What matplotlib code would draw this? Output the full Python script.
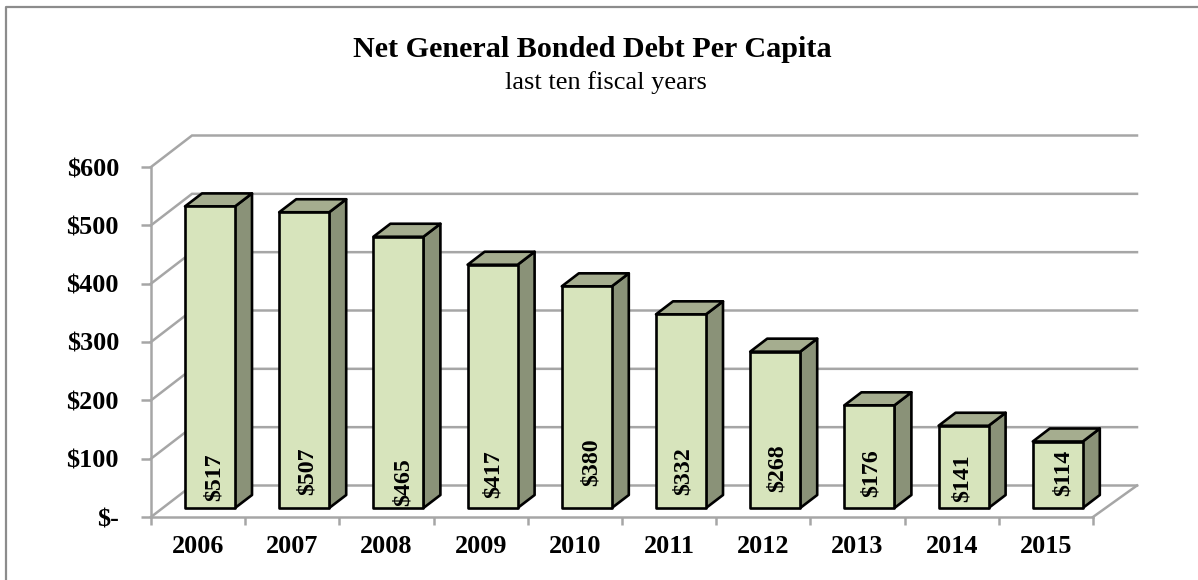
from matplotlib import pyplot as plt
from matplotlib.patches import Polygon
from matplotlib.lines import Line2D

years = ['2006', '2007', '2008', '2009', '2010', '2011', '2012', '2013', '2014', '2015']
debt = [517, 507, 465, 417, 380, 332, 268, 176, 141, 114]
y_ticks = [0, 100, 200, 300, 400, 500, 600]
y_labels = ['$-', '$100', '$200', '$300', '$400', '$500', '$600']

# hand placed data labels, pixels from the bar centre / bar bottom
label_dx = [4, 3, 5, 1, 4, 2, 2, 2, -1, 5]
label_lift = [7, 13, 2, 10, 22, 13, 16, 11, 6, 12]

W, H = 1198, 580
plt.rcParams['font.family'] = ['Liberation Serif', 'DejaVu Serif']

fig = plt.figure(figsize=(W / 100, H / 100), dpi=100)
# only the left and top edge of the chart frame are inside the crop
fig.add_artist(Line2D([6 / W, 6 / W, 1], [0, 1 - 7 / H, 1 - 7 / H], color='#8c8c8c', lw=1.6))

# front plane of the fake 3d box
left, right, bottom, top = 151, 1093, 517, 167
ax = fig.add_axes([left / W, 1 - bottom / H, (right - left) / W, (bottom - top) / H])
ax.set_xlim(0, len(years))
ax.set_ylim(0, 600)
ax.patch.set_visible(False)
for s in ['top', 'right']:
    ax.spines[s].set_visible(False)
for s in ['left', 'bottom']:
    ax.spines[s].set_color('#a6a6a6')
    ax.spines[s].set_linewidth(1.8)

px = len(years) / (right - left)
py = 600 / (bottom - top)
grid = '#a6a6a6'

# back wall lines and floor
back_dy = 31.5 * py
for v in y_ticks:
    ax.plot([0, 41 * px, len(years) + 44 * px], [v, v + back_dy, v + back_dy], color=grid, lw=1.8,
            clip_on=False, zorder=1, solid_joinstyle='miter')
ax.plot([len(years), len(years) + 44 * px], [0, back_dy], color=grid, lw=1.8, clip_on=False, zorder=1)

# bars
bar_w = 50 * px
depth_x, depth_y = 17 * px, 13 * py
off_x, off_y = 34 * px, 9 * py
for i, v in enumerate(debt):
    x0 = i + off_x
    x1 = x0 + bar_w
    y0 = off_y
    y1 = off_y + v
    kw = dict(ec='black', lw=1.9, clip_on=False, zorder=3, joinstyle='round')
    ax.add_patch(Polygon([(x1, y0), (x1 + depth_x, y0 + depth_y), (x1 + depth_x, y1 + depth_y), (x1, y1)],
                         fc='#8a9278', **kw))
    ax.add_patch(Polygon([(x0, y1), (x1, y1), (x1 + depth_x, y1 + depth_y), (x0 + depth_x, y1 + depth_y)],
                         fc='#a5ad8f', **kw))
    ax.add_patch(Polygon([(x0, y0), (x1, y0), (x1, y1), (x0, y1)], fc='#d7e4bc', **kw))
    ax.text((x0 + x1) / 2 + label_dx[i] * px, y0 + label_lift[i] * py, '$%d' % v, rotation=90,
            ha='center', va='bottom', fontsize=17.2, fontweight='bold', zorder=4)

ax.set_yticks(y_ticks)
ax.set_yticklabels(y_labels, fontsize=18.8, fontweight='bold')
ax.set_xticks(range(len(years) + 1))
ax.set_xticks([i + 0.5 for i in range(len(years))], minor=True)
ax.set_xticklabels([''] * (len(years) + 1))
ax.set_xticklabels(years, minor=True, fontsize=18.8, fontweight='bold')
ax.tick_params(axis='y', color=grid, width=1.8, length=7, pad=16)
ax.tick_params(axis='x', which='major', color=grid, width=1.8, length=6)
ax.tick_params(axis='x', which='minor', length=0, pad=13)

fig.text(592 / W, 1 - 57 / H, 'Net General Bonded Debt Per Capita', ha='center', va='baseline',
         fontsize=21.7, fontweight='bold')
fig.text(606 / W, 1 - 89 / H, 'last ten fiscal years', ha='center', va='baseline', fontsize=19)

fig.savefig('out.png', dpi=100)
